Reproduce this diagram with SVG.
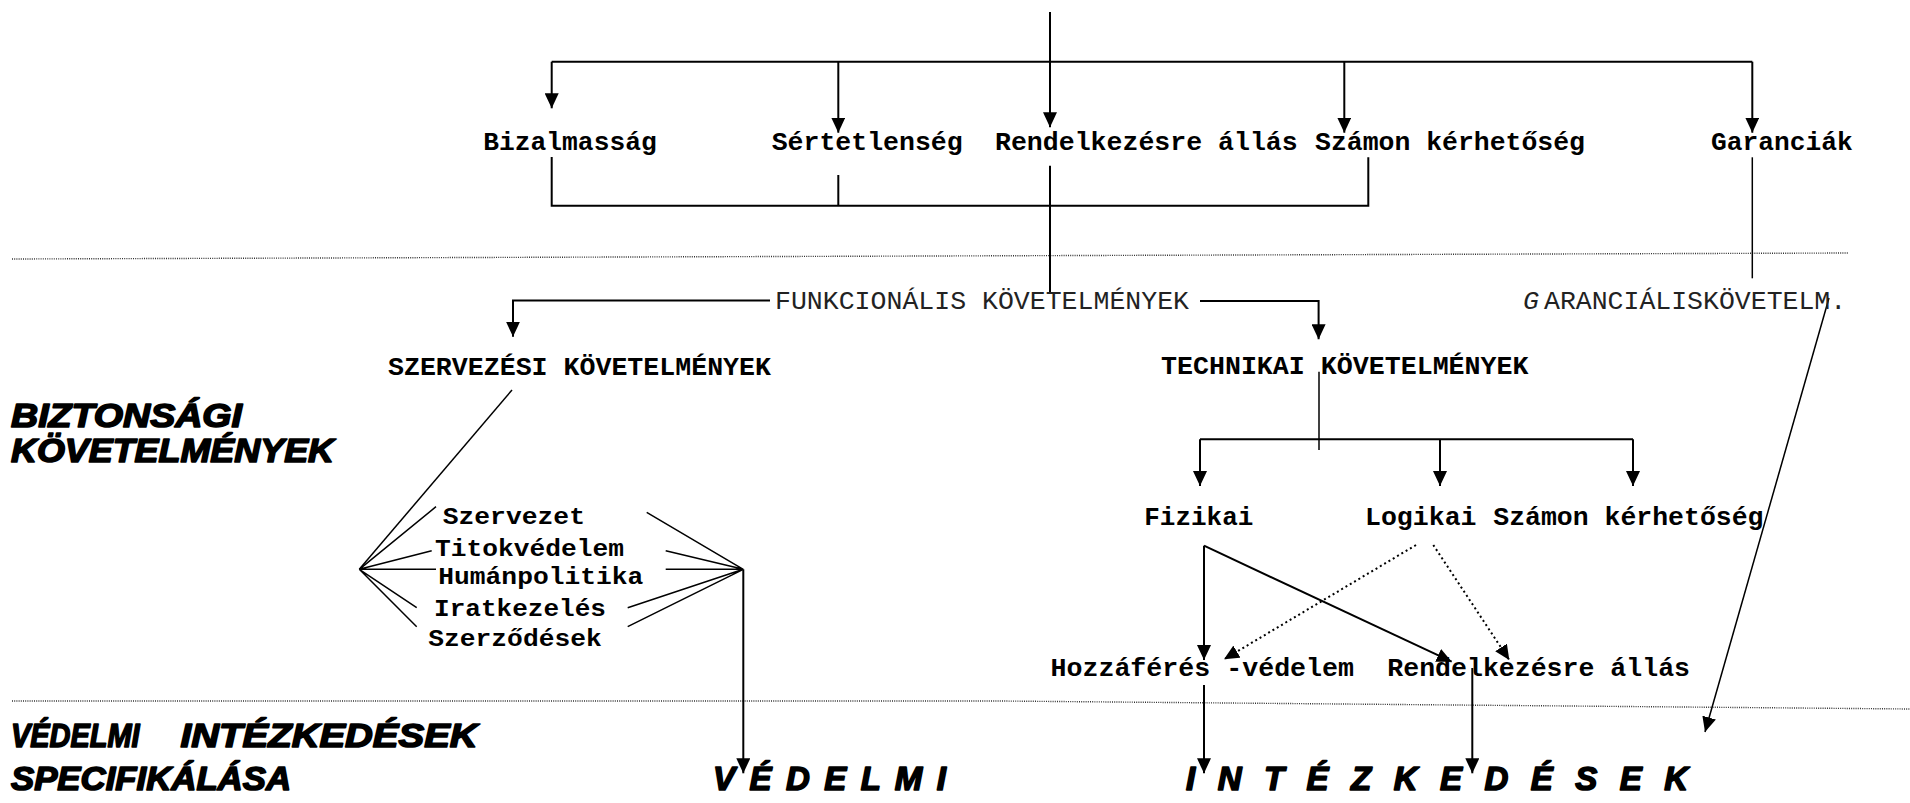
<svg xmlns="http://www.w3.org/2000/svg" width="1910" height="803" viewBox="0 0 1910 803">
  <style>
    .lbl { font-family: "Liberation Mono", "Courier New", monospace; font-weight: bold; font-size: 26.5px; fill: #000; }
    .sm { font-family: "Liberation Mono", "Courier New", monospace; font-weight: bold; font-size: 23px; fill: #000; }
    .reg { font-family: "Liberation Mono", "Courier New", monospace; font-weight: normal; font-size: 26.5px; fill: #222; }
    .big { font-family: "Liberation Sans", Arial, sans-serif; font-weight: bold; font-style: italic; font-size: 33px; fill: #000; stroke: #000; stroke-width: 1.6px; stroke-linejoin: round; }
    .ln { fill: none; stroke: #000; stroke-width: 2; }
    .thin { fill: none; stroke: #000; stroke-width: 1.5; }
    .dots { fill: none; stroke: #333; stroke-width: 1.4; stroke-dasharray: 1 1.2; }
    .dash { fill: none; stroke: #000; stroke-width: 2; stroke-dasharray: 2 3; }
  </style>
  <defs>
    <marker id="arr" viewBox="0 0 15 14" markerWidth="15" markerHeight="14" refX="15" refY="7" orient="auto" markerUnits="userSpaceOnUse">
      <path d="M0,0 L15,7 L0,14 z" fill="#000"/>
    </marker>
  </defs>
  <rect width="1910" height="803" fill="#fff"/>

  <!-- section separators -->
  <g id="separators">
    <path class="dots" d="M12,259 L1849,253"/>
    <path class="dots" d="M12,701 L1000,701 L1910,709"/>
  </g>

  <!-- connectors -->
  <g id="connectors">
    <!-- top distribution -->
    <path class="ln" d="M1050,12 L1050,127.3" marker-end="url(#arr)"/>
    <path class="ln" d="M551.7,61.7 L1752.3,61.7"/>
    <path class="ln" d="M551.7,61.7 L551.7,108.3" marker-end="url(#arr)"/>
    <path class="ln" d="M838.3,61.7 L838.3,132.7" marker-end="url(#arr)"/>
    <path class="ln" d="M1344.3,61.7 L1344.3,132.7" marker-end="url(#arr)"/>
    <path class="ln" d="M1752.3,61.7 L1752.3,132.7" marker-end="url(#arr)"/>
    <!-- lower bracket -->
    <path class="ln" d="M551.7,157 L551.7,205.7 L1368.3,205.7 L1368.3,157.3"/>
    <path class="ln" d="M838.3,175 L838.3,205.7"/>
    <path class="ln" d="M1050,165.7 L1050,293"/>
    <path class="thin" d="M1752.3,157.3 L1752.3,278.3"/>
    <!-- functional requirements split -->
    <path class="ln" d="M770,300.5 L513,300.5 L513,336.7" marker-end="url(#arr)"/>
    <path class="ln" d="M1200,301 L1318.6,301 L1318.6,339.3" marker-end="url(#arr)"/>
    <!-- guarantee requirements to measures -->
    <path class="thin" d="M1829,298 L1705,732" marker-end="url(#arr)"/>
    <!-- organisational fan -->
    <path class="thin" d="M512,390 L359.3,569.3"/>
    <path class="thin" d="M359.3,569.3 L436,506.7 M359.3,569.3 L431.7,550.7 M359.3,569.3 L436,569.3 M359.3,569.3 L416.7,607.7 M359.3,569.3 L416.7,626.7"/>
    <path class="thin" d="M743.3,569.3 L646.7,512.3 M743.3,569.3 L665.7,550.7 M743.3,569.3 L665.7,569.3 M743.3,569.3 L627.7,607.7 M743.3,569.3 L627.7,626.7"/>
    <path class="ln" d="M743.3,569.3 L743.3,773.3" marker-end="url(#arr)"/>
    <!-- technical branch -->
    <path class="thin" d="M1319,371.7 L1319,450"/>
    <path class="ln" d="M1200,439.3 L1633,439.3"/>
    <path class="ln" d="M1200,439.3 L1200,486" marker-end="url(#arr)"/>
    <path class="ln" d="M1440,439.3 L1440,486" marker-end="url(#arr)"/>
    <path class="ln" d="M1633,439.3 L1633,486" marker-end="url(#arr)"/>
    <!-- physical / logical -->
    <path class="ln" d="M1204,545.7 L1204,660" marker-end="url(#arr)"/>
    <path class="ln" d="M1204,545.7 L1451.7,661.7" marker-end="url(#arr)"/>
    <path class="dash" d="M1416,545 L1224,659.3" marker-end="url(#arr)"/>
    <path class="dash" d="M1433.3,545 L1509.3,660" marker-end="url(#arr)"/>
    <path class="ln" d="M1204,685 L1204,773.3" marker-end="url(#arr)"/>
    <path class="ln" d="M1472.3,668 L1472.3,773.3" marker-end="url(#arr)"/>
  </g>

  <!-- top level properties -->
  <g id="bizalmassag"><text class="lbl" x="483.3" y="150" textLength="173.4" lengthAdjust="spacingAndGlyphs">Bizalmasság</text></g>
  <g id="sertetlenseg"><text class="lbl" x="771.7" y="150" textLength="191" lengthAdjust="spacingAndGlyphs">Sértetlenség</text></g>
  <g id="rendelkezesre-allas"><text class="lbl" x="995" y="150" textLength="302.7" lengthAdjust="spacingAndGlyphs">Rendelkezésre állás</text></g>
  <g id="szamon-kerhetoseg"><text class="lbl" x="1315" y="150" textLength="270" lengthAdjust="spacingAndGlyphs">Számon kérhetőség</text></g>
  <g id="garanciak"><text class="lbl" x="1711" y="150" textLength="141.7" lengthAdjust="spacingAndGlyphs">Garanciák</text></g>

  <!-- requirement groups -->
  <g id="funkcionalis"><text class="reg" x="775" y="308.5" textLength="414" lengthAdjust="spacingAndGlyphs">FUNKCIONÁLIS KÖVETELMÉNYEK</text></g>
  <g id="garancialis"><text class="reg" y="309"><tspan x="1523" font-style="italic">G</tspan><tspan x="1544">ARANCIÁLISKÖVETELM.</tspan></text></g>
  <g id="szervezesi"><text class="lbl" x="388" y="375" textLength="383" lengthAdjust="spacingAndGlyphs">SZERVEZÉSI KÖVETELMÉNYEK</text></g>
  <g id="technikai"><text class="lbl" x="1161" y="374" textLength="367.5" lengthAdjust="spacingAndGlyphs">TECHNIKAI KÖVETELMÉNYEK</text></g>

  <!-- organisational items -->
  <g id="szervezet"><text class="sm" x="442.7" y="524.3" textLength="142.3" lengthAdjust="spacingAndGlyphs">Szervezet</text></g>
  <g id="titokvedelem"><text class="sm" x="435" y="556" textLength="189" lengthAdjust="spacingAndGlyphs">Titokvédelem</text></g>
  <g id="humanpolitika"><text class="sm" x="438.3" y="584.3" textLength="205" lengthAdjust="spacingAndGlyphs">Humánpolitika</text></g>
  <g id="iratkezeles"><text class="sm" x="434" y="616" textLength="172" lengthAdjust="spacingAndGlyphs">Iratkezelés</text></g>
  <g id="szerzodesek"><text class="sm" x="428.3" y="645.7" textLength="173.4" lengthAdjust="spacingAndGlyphs">Szerződések</text></g>

  <!-- technical items -->
  <g id="fizikai"><text class="lbl" x="1144.3" y="525" textLength="109" lengthAdjust="spacingAndGlyphs">Fizikai</text></g>
  <g id="logikai"><text class="lbl" x="1365" y="525" textLength="111.5" lengthAdjust="spacingAndGlyphs">Logikai</text></g>
  <g id="tech-szamon"><text class="lbl" x="1493.3" y="525" textLength="270.2" lengthAdjust="spacingAndGlyphs">Számon kérhetőség</text></g>
  <g id="hozzaferes"><text class="lbl" x="1050.5" y="676" textLength="303.5" lengthAdjust="spacingAndGlyphs">Hozzáférés -védelem</text></g>
  <g id="tech-rendelkezesre"><text class="lbl" x="1387.3" y="676" textLength="302.7" lengthAdjust="spacingAndGlyphs">Rendelkezésre állás</text></g>

  <!-- level titles -->
  <g id="title-biztonsagi">
    <text class="big" x="11" y="426.7" textLength="231" lengthAdjust="spacingAndGlyphs">BIZTONSÁGI</text>
    <text class="big" x="11" y="462.3" textLength="323" lengthAdjust="spacingAndGlyphs">KÖVETELMÉNYEK</text>
  </g>
  <g id="title-vedelmi">
    <text class="big" x="11" y="746.7" textLength="128.6" lengthAdjust="spacingAndGlyphs">VÉDELMI</text>
    <text class="big" x="180.6" y="746.7" textLength="297" lengthAdjust="spacingAndGlyphs">INTÉZKEDÉSEK</text>
    <text class="big" x="11" y="790" textLength="280" lengthAdjust="spacingAndGlyphs">SPECIFIKÁLÁSA</text>
  </g>

  <!-- measures -->
  <g id="vedelmi"><text class="big" x="713" y="790" textLength="233" lengthAdjust="spacing">V É D E L M I</text></g>
  <g id="intezkedesek"><text class="big" x="1186" y="790" textLength="502" lengthAdjust="spacing">I N T É Z K E D É S E K</text></g>
</svg>
